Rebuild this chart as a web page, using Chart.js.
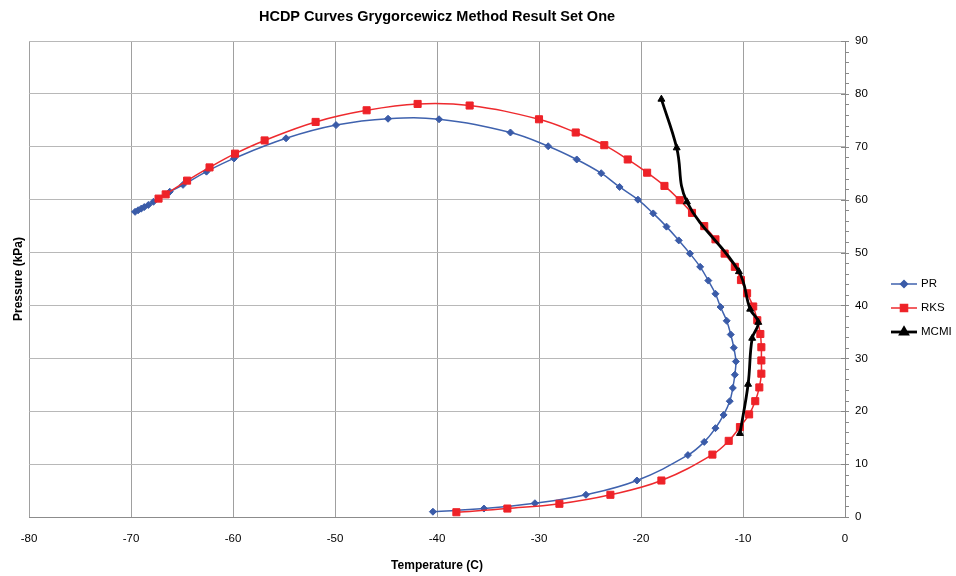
<!DOCTYPE html>
<html>
<head>
<meta charset="utf-8">
<title>HCDP Curves</title>
<script src="https://cdn.jsdelivr.net/npm/chart.js@4.4.0/dist/chart.umd.min.js"></script>
<style>
  html, body { margin: 0; padding: 0; background: #fff; }
  #wrap { width: 956px; height: 576px; }
</style>
</head>
<body>
<div id="wrap"><canvas id="myChart" width="956" height="576"></canvas></div>
<script>
// Temperature (C) and pressure (kPa) for each method, in curve order
var prTemp = [-40.4, -35.4, -30.4, -25.4, -20.4, -15.4, -13.8, -12.7, -11.9, -11.3,
              -11.0, -10.8, -10.7, -10.9, -11.2, -11.6, -12.2, -12.7, -13.4, -14.2,
              -15.2, -16.3, -17.5, -18.8, -20.3, -22.1, -23.9, -26.3, -29.1, -32.8,
              -39.8, -44.8, -49.9, -54.8, -59.9, -62.6, -64.9, -66.2, -67.8, -68.3,
              -68.7, -69.0, -69.3, -69.6];
var prPress = [1.0, 1.6, 2.6, 4.2, 6.9, 11.7, 14.2, 16.8, 19.3, 21.9,
               24.4, 26.9, 29.4, 32.0, 34.5, 37.1, 39.7, 42.2, 44.7, 47.3,
               49.8, 52.3, 54.9, 57.4, 60.0, 62.4, 65.0, 67.6, 70.1, 72.7,
               75.2, 75.3, 74.1, 71.6, 67.8, 65.3, 62.8, 61.5, 59.6, 59.0,
               58.6, 58.3, 58.0, 57.7];

var rksTemp = [-38.1, -33.1, -28.0, -23.0, -18.0, -13.0, -11.4, -10.3, -9.4, -8.8,
               -8.4, -8.2, -8.2, -8.2, -8.3, -8.6, -9.0, -9.6, -10.2, -10.8,
               -11.8, -12.7, -13.8, -15.0, -16.2, -17.7, -19.4, -21.3, -23.6, -26.4,
               -30.0, -36.8, -41.9, -46.9, -51.9, -56.9, -59.8, -62.3, -64.5, -66.6,
               -67.3];
var rksPress = [0.9, 1.6, 2.5, 4.2, 6.9, 11.8, 14.4, 17.0, 19.4, 21.9,
                24.5, 27.1, 29.6, 32.1, 34.6, 37.2, 39.8, 42.3, 44.8, 47.3,
                49.8, 52.5, 55.0, 57.5, 59.9, 62.6, 65.1, 67.6, 70.3, 72.7,
                75.2, 77.8, 78.1, 76.9, 74.7, 71.2, 68.7, 66.1, 63.6, 61.0,
                60.2];

var mcmiTemp = [-18.0, -16.5, -15.5, -10.4, -9.3, -8.5, -9.1, -9.5, -10.3];
var mcmiPress = [79.0, 69.8, 59.6, 46.4, 39.3, 36.8, 33.8, 25.1, 15.8];

var xTicks = [-80, -70, -60, -50, -40, -30, -20, -10, 0];
var yTicks = [0, 10, 20, 30, 40, 50, 60, 70, 80, 90];

function toPoints(xs, ys) {
    var pts = [];
    for (var i = 0; i < xs.length; i++) {
        pts.push({ x: xs[i], y: ys[i] });
    }
    return pts;
}

var fontFamily = "'Liberation Sans', Arial, sans-serif";

// Line-with-marker legend and the small tick marks on the right axis
var extrasPlugin = {
    id: 'extras',
    afterDraw: function(chart) {
        var ctx = chart.ctx;
        var y = chart.scales.y;
        var area = chart.chartArea;

        ctx.save();
        ctx.strokeStyle = '#888';
        ctx.lineWidth = 1;
        for (var v = 0; v <= 90; v += 2) {
            var py = Math.round(y.getPixelForValue(v)) + 0.5;
            var major = (v % 10 === 0);
            ctx.beginPath();
            ctx.moveTo(area.right - (major ? 4 : 0), py);
            ctx.lineTo(area.right + 4, py);
            ctx.stroke();
        }

        ctx.font = '11.5px ' + fontFamily;
        ctx.textBaseline = 'middle';
        ctx.textAlign = 'left';
        chart.data.datasets.forEach(function(ds, i) {
            var ly = 284 + i * 24;
            ctx.strokeStyle = ds.borderColor;
            ctx.lineWidth = ds.borderWidth;
            ctx.beginPath();
            ctx.moveTo(891, ly);
            ctx.lineTo(917, ly);
            ctx.stroke();
            Chart.helpers.drawPoint(ctx, {
                pointStyle: ds.pointStyle,
                radius: ds.pointRadius,
                borderWidth: 1
            }, 904, ly);
            ctx.fillStyle = ds.pointBackgroundColor;
            ctx.strokeStyle = ds.pointBorderColor;
            ctx.fill();
            ctx.fillStyle = '#000';
            ctx.fillText(ds.label, 921, ly);
        });
        ctx.restore();
    }
};

var ctx = document.getElementById('myChart').getContext('2d');
var myChart = new Chart(ctx, {
    type: 'scatter',
    data: {
        datasets: [{
            label: 'PR',
            data: toPoints(prTemp, prPress),
            showLine: true,
            tension: 0.4,
            borderColor: '#3F62AE',
            borderWidth: 1.5,
            pointStyle: 'rectRot',
            pointRadius: 3.5,
            pointBackgroundColor: '#3A5BA8',
            pointBorderColor: '#3A5BA8',
            pointBorderWidth: 1,
            order: 2
        }, {
            label: 'RKS',
            data: toPoints(rksTemp, rksPress),
            showLine: true,
            tension: 0.4,
            borderColor: '#EE2A2E',
            borderWidth: 1.5,
            pointStyle: 'rect',
            pointRadius: 5,
            pointBackgroundColor: '#EE2228',
            pointBorderColor: '#EE2228',
            pointBorderWidth: 1,
            order: 1
        }, {
            label: 'MCMI',
            data: toPoints(mcmiTemp, mcmiPress),
            showLine: true,
            tension: 0.4,
            borderColor: '#000000',
            borderWidth: 2.8,
            pointStyle: 'triangle',
            pointRadius: 4,
            pointBackgroundColor: '#000000',
            pointBorderColor: '#000000',
            pointBorderWidth: 1,
            order: 0
        }]
    },
    options: {
        responsive: false,
        animation: false,
        layout: { padding: { right: 66, left: 0, top: 0, bottom: 0 } },
        plugins: {
            legend: { display: false },
            tooltip: { enabled: false },
            title: {
                display: true,
                fullSize: false,
                text: 'HCDP Curves Grygorcewicz Method Result Set One',
                color: '#000',
                font: { family: fontFamily, size: 14.5, weight: 'bold' },
                padding: { top: 8, bottom: 15.6 }
            }
        },
        scales: {
            x: {
                type: 'linear',
                min: -80,
                max: 0,
                afterBuildTicks: function(s) {
                    s.ticks = xTicks.map(function(v) { return { value: v }; });
                },
                afterFit: function(s) { s.height = 59; },
                ticks: {
                    color: '#000',
                    font: { family: fontFamily, size: 11.5 },
                    padding: 15,
                    maxRotation: 0
                },
                grid: { color: '#a0a0a0', drawTicks: false },
                border: { color: '#8c8c8c' },
                title: {
                    display: true,
                    text: 'Temperature (C)',
                    color: '#000',
                    font: { family: fontFamily, size: 12, weight: 'bold' },
                    padding: { top: 8, bottom: 3 }
                }
            },
            y: {
                type: 'linear',
                position: 'right',
                min: 0,
                max: 90,
                afterBuildTicks: function(s) {
                    s.ticks = yTicks.map(function(v) { return { value: v }; });
                },
                afterFit: function(s) { s.width = 45; },
                ticks: {
                    color: '#000',
                    font: { family: fontFamily, size: 11.5 },
                    padding: 10
                },
                grid: { color: '#b8b8b8', drawTicks: false },
                border: { color: '#8c8c8c' }
            },
            yl: {
                type: 'linear',
                position: 'left',
                min: 0,
                max: 90,
                afterFit: function(s) { s.width = 29; },
                ticks: { display: false },
                grid: { display: false, drawTicks: false },
                border: { display: false },
                title: {
                    display: true,
                    text: 'Pressure (kPa)',
                    color: '#000',
                    font: { family: fontFamily, size: 12, weight: 'bold' },
                    padding: { top: 11, bottom: 0 }
                }
            }
        }
    },
    plugins: [extrasPlugin]
});
</script>
</body>
</html>
